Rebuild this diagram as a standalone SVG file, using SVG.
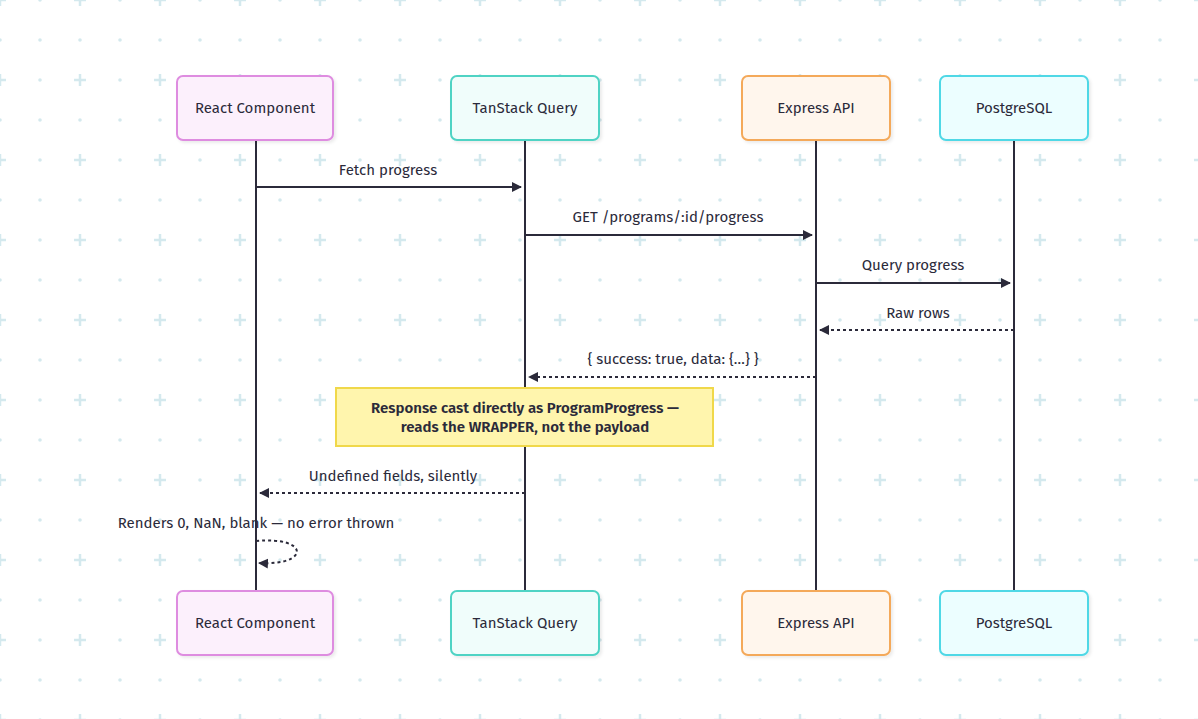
<svg xmlns="http://www.w3.org/2000/svg" width="1198" height="719" viewBox="0 0 1198 719">
<defs>
<pattern id="g" width="80" height="80" patternUnits="userSpaceOnUse">
<path d="M-6 0H6M0-6V6M74 80H86M80 74V86M-6 80H6M0 74V86M74 0H86M80-6V6" stroke="#d4e9ee" stroke-width="2.5"/>
<circle cx="40" cy="0" r="1.8" fill="#d4e9ee"/><circle cx="0" cy="40" r="1.8" fill="#d4e9ee"/><circle cx="40" cy="40" r="1.8" fill="#d4e9ee"/><circle cx="80" cy="40" r="1.8" fill="#d4e9ee"/><circle cx="40" cy="80" r="1.8" fill="#d4e9ee"/>
</pattern>
<marker id="a" viewBox="0 0 10 10" refX="9" refY="5" markerWidth="10" markerHeight="10" markerUnits="userSpaceOnUse" orient="auto"><path d="M0 0L10 5L0 10z" fill="#2b2a3a"/></marker>
<filter id="sh"><feDropShadow dx="2" dy="2" stdDeviation="1.5" flood-color="#000" flood-opacity="0.08"/></filter>
</defs>
<style>
text{font-family:"Fira Sans","Noto Sans","Liberation Sans",sans-serif;font-size:15px;fill:#2b2a3a;text-anchor:middle}
.life{stroke:#2b2a3a;stroke-width:2}
.m{stroke:#2b2a3a;stroke-width:2;fill:none;marker-end:url(#a)}
.d{stroke-dasharray:3 3}
.b{stroke-width:2;filter:url(#sh)}
</style>
<rect width="1198" height="719" fill="#fff"/>
<rect width="1198" height="719" fill="url(#g)"/>
<g id="lifelines">
<line class="life" x1="256" y1="140" x2="256" y2="591"/>
<line class="life" x1="525" y1="140" x2="525" y2="591"/>
<line class="life" x1="816" y1="140" x2="816" y2="591"/>
<line class="life" x1="1014" y1="140" x2="1014" y2="591"/>
</g>
<g id="react-top"><rect class="b" x="177" y="76" width="156" height="64" rx="6" fill="#fcf0fc" stroke="#de8ce0"/><text x="255" y="113">React Component</text></g>
<g id="tanstack-top"><rect class="b" x="451" y="76" width="148" height="64" rx="6" fill="#f0fdfb" stroke="#4fd3c4"/><text x="525" y="113">TanStack Query</text></g>
<g id="express-top"><rect class="b" x="742" y="76" width="148" height="64" rx="6" fill="#fff6ed" stroke="#f4a95a"/><text x="816" y="113">Express API</text></g>
<g id="postgres-top"><rect class="b" x="940" y="76" width="148" height="64" rx="6" fill="#ecfeff" stroke="#4fd8e6"/><text x="1014" y="113">PostgreSQL</text></g>
<g id="react-bottom"><rect class="b" x="177" y="591" width="156" height="64" rx="6" fill="#fcf0fc" stroke="#de8ce0"/><text x="255" y="628">React Component</text></g>
<g id="tanstack-bottom"><rect class="b" x="451" y="591" width="148" height="64" rx="6" fill="#f0fdfb" stroke="#4fd3c4"/><text x="525" y="628">TanStack Query</text></g>
<g id="express-bottom"><rect class="b" x="742" y="591" width="148" height="64" rx="6" fill="#fff6ed" stroke="#f4a95a"/><text x="816" y="628">Express API</text></g>
<g id="postgres-bottom"><rect class="b" x="940" y="591" width="148" height="64" rx="6" fill="#ecfeff" stroke="#4fd8e6"/><text x="1014" y="628">PostgreSQL</text></g>
<g id="connectors">
<line class="m" x1="256" y1="187" x2="521" y2="187"/><text x="388" y="175">Fetch progress</text>
<line class="m" x1="525" y1="235" x2="812" y2="235"/><text x="668" y="222">GET /programs/:id/progress</text>
<line class="m" x1="816" y1="283" x2="1010" y2="283"/><text x="913" y="270">Query progress</text>
<line class="m d" x1="1014" y1="330" x2="820" y2="330"/><text x="918" y="318">Raw rows</text>
<line class="m d" x1="816" y1="377" x2="529" y2="377"/><text x="673" y="364">{ success: true, data: {…} }</text>
<line class="m d" x1="525" y1="493" x2="260" y2="493"/><text x="393" y="481">Undefined fields, silently</text>
<path class="m d" d="M256 541C310 536 310 566 259 563"/><text x="256" y="528">Renders 0, NaN, blank — no error thrown</text>
</g>
<g id="note"><rect x="336" y="388" width="377" height="58" fill="#fff5ad" stroke="#f0d84a" stroke-width="2"/>
<text x="525" y="413" font-weight="bold" style="font-weight:600">Response cast directly as ProgramProgress —</text>
<text x="525" y="432" style="font-weight:600">reads the WRAPPER, not the payload</text></g>
</svg>
